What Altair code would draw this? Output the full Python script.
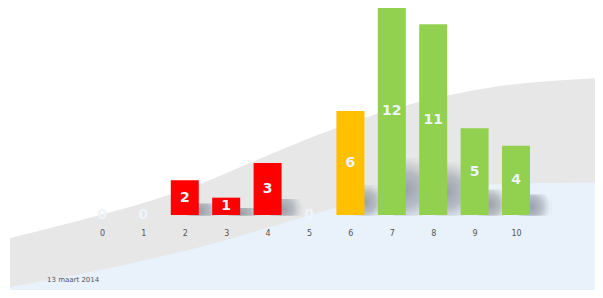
import altair as alt
import pandas as pd

# ---- data ----
scores = [0, 1, 2, 3, 4, 5, 6, 7, 8, 9, 10]
counts = [0, 0, 2, 1, 3, 0, 6, 12, 11, 5, 4]
date_label = ["13 maart 2014"]

# decorative background waves (page pixel frame)
wave_x = [10, 100, 150, 200, 250, 300, 350, 400, 450, 500, 550, 603]
grey_top = [238, 215, 201, 184, 163, 142, 123, 107, 95, 86, 81, 78]
blue_x = [10, 100, 150, 200, 250, 300, 350, 400, 450, 500, 550, 603]
blue_top = [287, 270, 259, 247, 233, 218, 204, 193, 187, 184, 183, 182]
page_bottom = 298

W, H = 587, 282

bars = pd.DataFrame({"score": scores, "count": counts})
grey_df = pd.DataFrame({"x": wave_x, "top": grey_top, "bottom": [page_bottom] * len(wave_x)})
blue_df = pd.DataFrame({"x": blue_x, "top": blue_top, "bottom": [page_bottom] * len(blue_x)})
date_df = pd.DataFrame({"label": date_label})

px = alt.Scale(domain=[8, 8 + W], nice=False, zero=False, padding=0)
py = alt.Scale(domain=[8 + H, 8], nice=False, zero=False, padding=0)

grey = alt.Chart(grey_df).mark_area(color="#e7e7e7", interpolate="monotone", clip=True).encode(
    x=alt.X("x:Q", scale=px, axis=None),
    y=alt.Y("top:Q", scale=py, axis=None),
    y2="bottom:Q",
)
blue = alt.Chart(blue_df).mark_area(color="#e9f1fa", interpolate="monotone", clip=True).encode(
    x=alt.X("x:Q", scale=px, axis=None),
    y=alt.Y("top:Q", scale=py, axis=None),
    y2="bottom:Q",
)
date_txt = alt.Chart(date_df).mark_text(
    align="left", baseline="middle", fontSize=7, font="DejaVu Sans", color="#555555"
).encode(x=alt.value(39), y=alt.value(272), text="label:N")

bg = alt.layer(grey, blue, date_txt)

step = 41.4
d0 = -94 / step
xs = alt.Scale(domain=[d0, d0 + W / step], nice=False, zero=False, padding=0)
ys = alt.Scale(domain=[-75 / 17.33, 207 / 17.33], nice=False, zero=False, padding=0)

x_axis = alt.Axis(
    orient="bottom",
    values=scores,
    domain=False,
    ticks=False,
    grid=False,
    title=None,
    labelFont="DejaVu Sans",
    labelFontSize=8,
    labelColor="#555555",
    labelPadding=0,
    labelBaseline="top",
    offset=-61,
    zindex=1,
)

base = alt.Chart(bars).transform_calculate(
    group="datum.score <= 5 ? 'laag' : (datum.score == 6 ? 'midden' : 'hoog')",
    mid="datum.count / 2",
    sx1="datum.score + 0.05",
    sx2="datum.score + 0.85",
    sh="datum.count * 0.26 + 0.15",
)

shadow = base.transform_filter("datum.count > 0").mark_rect(
    color=alt.Gradient(
        gradient="radial",
        x1=0.4, y1=0.55, r1=0,
        x2=0.4, y2=0.55, r2=0.6,
        stops=[
            alt.GradientStop(offset=0, color="rgba(150,156,165,0.95)"),
            alt.GradientStop(offset=0.5, color="rgba(160,166,175,0.7)"),
            alt.GradientStop(offset=1, color="rgba(170,176,184,0)"),
        ],
    ),
).encode(
    x=alt.X("sx1:Q", scale=xs, axis=x_axis),
    x2="sx2:Q",
    y=alt.Y("sh:Q", scale=ys, axis=None),
    y2=alt.datum(-0.05),
)

bar = base.mark_bar(width=28).encode(
    x=alt.X("score:Q", scale=xs, axis=x_axis),
    y=alt.Y("count:Q", scale=ys, axis=None),
    y2=alt.datum(0),
    color=alt.Color(
        "group:N",
        scale=alt.Scale(domain=["laag", "midden", "hoog"], range=["#ff0000", "#ffc000", "#92d050"]),
        legend=None,
    ),
)

labels = base.mark_text(
    font="DejaVu Sans", fontWeight="bold", fontSize=14, color="#eef4fb", baseline="middle"
).encode(
    x=alt.X("score:Q", scale=xs, axis=x_axis),
    y=alt.Y("mid:Q", scale=ys, axis=None),
    text="count:Q",
)

fg = alt.layer(shadow, bar, labels)

chart = (
    alt.layer(bg, fg)
    .resolve_scale(x="independent", y="independent")
    .properties(width=W, height=H, padding=0, autosize=alt.AutoSizeParams(type="none"))
    .configure_view(stroke=None)
)

chart.save("out.html", embed_options={"renderer": "svg", "actions": False})
